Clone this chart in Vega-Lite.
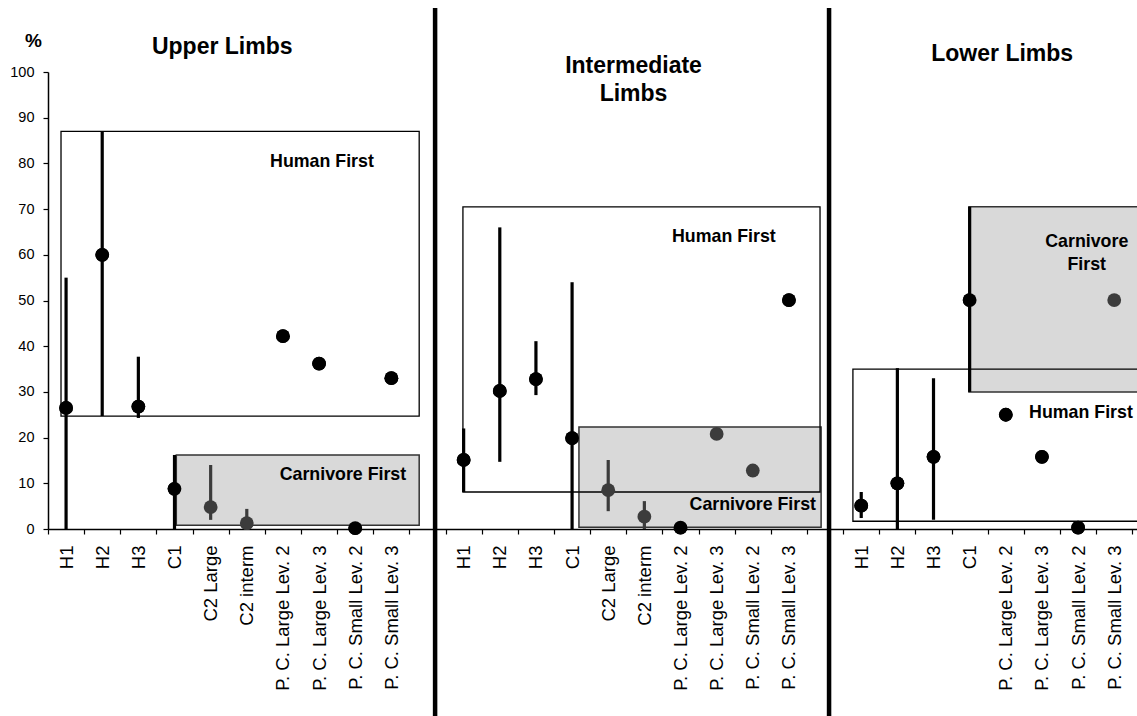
{
  "$schema": "https://vega.github.io/schema/vega-lite/v6.json",
  "width": 1089,
  "height": 457,
  "autosize": "none",
  "padding": {"left": 48, "top": 72, "right": 0, "bottom": 187},
  "background": "white",
  "config": {"view": {"stroke": null}, "font": "Liberation Sans", "axis": {"grid": false}},
  "datasets": {
    "obs": [
      {"panel": "Upper Limbs", "cat": "H1", "slot": 1, "value": 26.5, "lo": 0, "hi": 55, "series": "A"},
      {"panel": "Upper Limbs", "cat": "H2", "slot": 2, "value": 60, "lo": 24.7, "hi": 87, "series": "A"},
      {"panel": "Upper Limbs", "cat": "H3", "slot": 3, "value": 26.8, "lo": 24.3, "hi": 37.7, "series": "A"},
      {"panel": "Upper Limbs", "cat": "C1", "slot": 4, "value": 8.8, "lo": 0, "hi": 16.2, "series": "A"},
      {"panel": "Upper Limbs", "cat": "C2 Large", "slot": 5, "value": 4.8, "lo": 2, "hi": 14, "series": "B"},
      {"panel": "Upper Limbs", "cat": "C2  interm", "slot": 6, "value": 1.3, "lo": 0, "hi": 4.4, "series": "B"},
      {"panel": "Upper Limbs", "cat": "P. C. Large Lev. 2", "slot": 7, "value": 42.2, "lo": null, "hi": null, "series": "A"},
      {"panel": "Upper Limbs", "cat": "P. C. Large Lev. 3", "slot": 8, "value": 36.2, "lo": null, "hi": null, "series": "A"},
      {"panel": "Upper Limbs", "cat": "P. C. Small Lev. 2", "slot": 9, "value": 0.2, "lo": null, "hi": null, "series": "A"},
      {"panel": "Upper Limbs", "cat": "P. C. Small Lev. 3", "slot": 10, "value": 33, "lo": null, "hi": null, "series": "A"},
      {"panel": "Intermediate Limbs", "cat": "H1", "slot": 12, "value": 15.1, "lo": 8.1, "hi": 22, "series": "A"},
      {"panel": "Intermediate Limbs", "cat": "H2", "slot": 13, "value": 30.2, "lo": 14.7, "hi": 66, "series": "A"},
      {"panel": "Intermediate Limbs", "cat": "H3", "slot": 14, "value": 32.8, "lo": 29.3, "hi": 41.1, "series": "A"},
      {"panel": "Intermediate Limbs", "cat": "C1", "slot": 15, "value": 19.9, "lo": 0, "hi": 54, "series": "A"},
      {"panel": "Intermediate Limbs", "cat": "C2 Large", "slot": 16, "value": 8.5, "lo": 3.9, "hi": 15.1, "series": "B"},
      {"panel": "Intermediate Limbs", "cat": "C2  interm", "slot": 17, "value": 2.7, "lo": 0, "hi": 6.1, "series": "B"},
      {"panel": "Intermediate Limbs", "cat": "P. C. Large Lev. 2", "slot": 18, "value": 0.3, "lo": null, "hi": null, "series": "A"},
      {"panel": "Intermediate Limbs", "cat": "P. C. Large Lev. 3", "slot": 19, "value": 20.8, "lo": null, "hi": null, "series": "B"},
      {"panel": "Intermediate Limbs", "cat": "P. C. Small Lev. 2", "slot": 20, "value": 12.8, "lo": null, "hi": null, "series": "B"},
      {"panel": "Intermediate Limbs", "cat": "P. C. Small Lev. 3", "slot": 21, "value": 50.1, "lo": null, "hi": null, "series": "A"},
      {"panel": "Lower Limbs", "cat": "H1", "slot": 23, "value": 5.1, "lo": 2.4, "hi": 8.1, "series": "A"},
      {"panel": "Lower Limbs", "cat": "H2", "slot": 24, "value": 10, "lo": 0, "hi": 35.2, "series": "A"},
      {"panel": "Lower Limbs", "cat": "H3", "slot": 25, "value": 15.8, "lo": 2, "hi": 33, "series": "A"},
      {"panel": "Lower Limbs", "cat": "C1", "slot": 26, "value": 50.1, "lo": 30, "hi": 70.5, "series": "A"},
      {"panel": "Lower Limbs", "cat": "P. C. Large Lev. 2", "slot": 27, "value": 25, "lo": null, "hi": null, "series": "A"},
      {"panel": "Lower Limbs", "cat": "P. C. Large Lev. 3", "slot": 28, "value": 15.8, "lo": null, "hi": null, "series": "A"},
      {"panel": "Lower Limbs", "cat": "P. C. Small Lev. 2", "slot": 29, "value": 0.3, "lo": null, "hi": null, "series": "A"},
      {"panel": "Lower Limbs", "cat": "P. C. Small Lev. 3", "slot": 30, "value": 50.1, "lo": null, "hi": null, "series": "B"}
    ],
    "boxes": [
      {"panel": "Upper Limbs", "type": "Human First", "x": 0.86, "x2": 10.77, "y": 24.7, "y2": 87},
      {"panel": "Upper Limbs", "type": "Carnivore First", "x": 4.05, "x2": 10.77, "y": 0.8, "y2": 16.2},
      {"panel": "Intermediate Limbs", "type": "Human First", "x": 11.98, "x2": 21.86, "y": 8.1, "y2": 70.5},
      {"panel": "Intermediate Limbs", "type": "Carnivore First", "x": 15.19, "x2": 21.89, "y": 0.4, "y2": 22.3},
      {"panel": "Lower Limbs", "type": "Human First", "x": 22.77, "x2": 30.8, "y": 1.7, "y2": 35},
      {"panel": "Lower Limbs", "type": "Carnivore First", "x": 25.98, "x2": 30.8, "y": 30, "y2": 70.5}
    ],
    "dividers": [{"x": 11.21}, {"x": 22.11}],
    "titles": [
      {"text": "Upper Limbs", "x": 5.32, "y": 105.5},
      {"text": "Intermediate\nLimbs", "x": 16.7, "y": 101.3},
      {"text": "Lower Limbs", "x": 26.9, "y": 104}
    ],
    "notes": [
      {"text": "Human First", "x": 8.08, "y": 80.3},
      {"text": "Carnivore First", "x": 8.66, "y": 11.8},
      {"text": "Human First", "x": 19.2, "y": 63.9},
      {"text": "Carnivore First", "x": 20.0, "y": 5.3},
      {"text": "Human First", "x": 29.08, "y": 25.4},
      {"text": "Carnivore\nFirst", "x": 29.24, "y": 62.9}
    ]
  },
  "layer": [
    {
      "data": {"name": "obs"},
      "mark": {"type": "point", "filled": true, "shape": "circle", "size": 190, "opacity": 1},
      "encoding": {
        "x": {
          "field": "slot", "type": "quantitative",
          "scale": {"domain": [0.5, 30.63], "nice": false, "zero": false},
          "axis": {
            "values": [0.5, 1.5, 2.5, 3.5, 4.5, 5.5, 6.5, 7.5, 8.5, 9.5, 10.5, 11.5, 12.5, 13.5, 14.5, 15.5, 16.5, 17.5, 18.5, 19.5, 20.5, 21.5, 22.5, 23.5, 24.5, 25.5, 26.5, 27.5, 28.5, 29.5, 30.5],
            "tickCount": 40,
            "labelExpr": "['', 'H1', 'H2', 'H3', 'C1', 'C2 Large', 'C2  interm', 'P. C. Large Lev. 2', 'P. C. Large Lev. 3', 'P. C. Small Lev. 2', 'P. C. Small Lev. 3', '', 'H1', 'H2', 'H3', 'C1', 'C2 Large', 'C2  interm', 'P. C. Large Lev. 2', 'P. C. Large Lev. 3', 'P. C. Small Lev. 2', 'P. C. Small Lev. 3', '', 'H1', 'H2', 'H3', 'C1', 'P. C. Large Lev. 2', 'P. C. Large Lev. 3', 'P. C. Small Lev. 2', 'P. C. Small Lev. 3', ''][round(datum.value + 0.5)]",
            "labelOffset": 18,
            "labelAngle": -90,
            "labelAlign": "right",
            "labelBaseline": "middle",
            "labelFontSize": 18.5,
            "labelColor": "#000000",
            "labelPadding": 11,
            "labelOverlap": false,
            "labelBound": false,
            "labelFlush": false,
            "tickSize": 5,
            "tickWidth": 1.2,
            "tickColor": "#000000",
            "domainColor": "#000000",
            "domainWidth": 1.5,
            "grid": false,
            "title": null
          }
        },
        "y": {
          "field": "value", "type": "quantitative",
          "scale": {"domain": [0, 100], "nice": false, "zero": false},
          "axis": {
            "values": [0, 10, 20, 30, 40, 50, 60, 70, 80, 90, 100],
            "tickCount": 20,
            "labelFontSize": 14.5,
            "labelColor": "#000000",
            "labelPadding": 9,
            "tickSize": 5,
            "tickWidth": 1.2,
            "tickColor": "#000000",
            "domainColor": "#000000",
            "domainWidth": 1.5,
            "grid": false,
            "title": "%",
            "titleAngle": 0,
            "titleFontSize": 19,
            "titleFontWeight": "bold",
            "titleColor": "#000000",
            "titleAlign": "center",
            "titleBaseline": "middle",
            "titleX": -15,
            "titleY": -32
          }
        },
        "color": {"field": "series", "type": "nominal", "scale": {"domain": ["A", "B"], "range": ["#000000", "#3c3c3c"]}, "legend": null}
      }
    },
    {
      "data": {"name": "boxes"},
      "transform": [{"filter": "datum.type == 'Carnivore First'"}],
      "mark": {"type": "rect", "fill": "#d9d9d9", "stroke": "#333333", "strokeWidth": 1.5},
      "encoding": {
        "x": {"field": "x", "type": "quantitative"},
        "x2": {"field": "x2"},
        "y": {"field": "y", "type": "quantitative"},
        "y2": {"field": "y2"}
      }
    },
    {
      "data": {"name": "boxes"},
      "transform": [{"filter": "datum.type == 'Human First'"}],
      "mark": {"type": "rect", "filled": false, "stroke": "#000000", "strokeWidth": 1.3},
      "encoding": {
        "x": {"field": "x", "type": "quantitative"},
        "x2": {"field": "x2"},
        "y": {"field": "y", "type": "quantitative"},
        "y2": {"field": "y2"}
      }
    },
    {
      "data": {"name": "dividers"},
      "mark": {"type": "rule", "color": "#000000", "strokeWidth": 4.5},
      "encoding": {
        "x": {"field": "x", "type": "quantitative"},
        "y": {"datum": 114, "type": "quantitative"},
        "y2": {"datum": -41}
      }
    },
    {
      "data": {"name": "obs"},
      "transform": [{"filter": "isValid(datum.lo)"}],
      "mark": {"type": "rule", "strokeWidth": 3.2},
      "encoding": {
        "x": {"field": "slot", "type": "quantitative"},
        "y": {"field": "lo", "type": "quantitative"},
        "y2": {"field": "hi"},
        "color": {"field": "series", "type": "nominal", "legend": null}
      }
    },
    {
      "data": {"name": "obs"},
      "mark": {"type": "point", "filled": true, "shape": "circle", "size": 190, "opacity": 1},
      "encoding": {
        "x": {"field": "slot", "type": "quantitative"},
        "y": {"field": "value", "type": "quantitative"},
        "color": {"field": "series", "type": "nominal", "legend": null}
      }
    },
    {
      "data": {"name": "titles"},
      "mark": {"type": "text", "fontSize": 23, "fontWeight": "bold", "align": "center", "baseline": "middle", "lineBreak": "\n", "lineHeight": 28, "color": "#000000"},
      "encoding": {
        "x": {"field": "x", "type": "quantitative"},
        "y": {"field": "y", "type": "quantitative"},
        "text": {"field": "text"}
      }
    },
    {
      "data": {"name": "notes"},
      "mark": {"type": "text", "fontSize": 17.8, "fontWeight": "bold", "align": "center", "baseline": "middle", "lineBreak": "\n", "lineHeight": 23, "color": "#000000"},
      "encoding": {
        "x": {"field": "x", "type": "quantitative"},
        "y": {"field": "y", "type": "quantitative"},
        "text": {"field": "text"}
      }
    }
  ]
}
